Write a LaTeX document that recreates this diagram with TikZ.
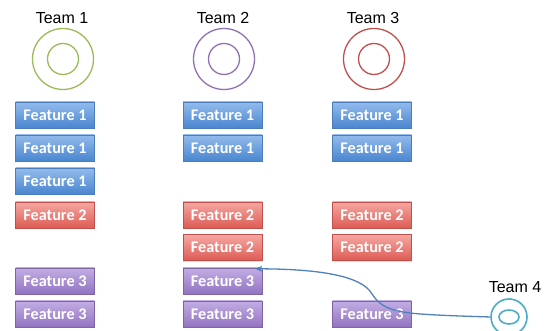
\documentclass[tikz,border=0pt]{standalone}
\usepackage{fontspec}
\setmainfont{Liberation Sans}
\newfontfamily\calib{Carlito}
\usetikzlibrary{shadows,arrows.meta,calc}
\definecolor{bluetop}{HTML}{93BBEC}
\definecolor{bluebot}{HTML}{4A86D0}
\definecolor{blueedge}{HTML}{4A7DBA}
\definecolor{redtop}{HTML}{F6A7A2}
\definecolor{redbot}{HTML}{DD5C55}
\definecolor{rededge}{HTML}{C0504D}
\definecolor{purtop}{HTML}{C2ADE3}
\definecolor{purbot}{HTML}{9273C2}
\definecolor{puredge}{HTML}{8064A2}
\definecolor{tgreen}{HTML}{9BBB59}
\definecolor{tpurple}{HTML}{8E72B5}
\definecolor{tred}{HTML}{C0504D}
\definecolor{tteal}{HTML}{4BACC6}
\definecolor{arrowblue}{HTML}{4F81BD}
\tikzset{
  featbox/.style={minimum width=79pt, minimum height=26pt, inner sep=0pt,
    font=\calib\bfseries\fontsize{16.2}{18}\selectfont, text=white,
    drop shadow={shadow xshift=0pt, shadow yshift=-1.5pt, opacity=0.25}},
  fone/.style={featbox, draw=blueedge, top color=bluetop, bottom color=bluebot},
  ftwo/.style={featbox, draw=rededge, top color=redtop, bottom color=redbot},
  fthree/.style={featbox, draw=puredge, top color=purtop, bottom color=purbot},
  outerring/.style={circle, minimum size=61pt, inner sep=0pt, line width=1.3pt},
  innerring/.style={circle, minimum size=31pt, inner sep=0pt, line width=1.3pt},
  teamlabel/.style={font=\fontsize{16}{18}\selectfont, inner sep=0pt}
}
\begin{document}
\begin{tikzpicture}[x=1pt,y=1pt]
\useasboundingbox (0,0) rectangle (549,331);
% team labels and rings
\node[teamlabel] (l1) at (62,313) {Team 1};
\node[teamlabel] (l2) at (223,313) {Team 2};
\node[teamlabel] (l3) at (373,313) {Team 3};
\node[outerring, draw=tgreen] (t1) at (63,272) {};
\node[innerring, draw=tgreen] (t1i) at (63,272) {};
\node[outerring, draw=tpurple] (t2) at (224,272) {};
\node[innerring, draw=tpurple] (t2i) at (224,272) {};
\node[outerring, draw=tred] (t3) at (374,272) {};
\node[innerring, draw=tred] (t3i) at (374,272) {};
% column 1
\node[fone] (c1r1) at (55,216) {Feature 1};
\node[fone] (c1r2) at (55,183) {Feature 1};
\node[fone] (c1r3) at (55,150) {Feature 1};
\node[ftwo] (c1r4) at (55,116) {Feature 2};
\node[fthree] (c1r6) at (55,50) {Feature 3};
\node[fthree] (c1r7) at (55,17) {Feature 3};
% column 2
\node[fone] (c2r1) at (222.5,216) {Feature 1};
\node[fone] (c2r2) at (222.5,183) {Feature 1};
\node[ftwo] (c2r4) at (222.5,116) {Feature 2};
\node[ftwo] (c2r5) at (222.5,83.5) {Feature 2};
\node[fthree] (c2r6) at (222.5,50) {Feature 3};
\node[fthree] (c2r7) at (222.5,17) {Feature 3};
% column 3
\node[fone] (c3r1) at (372,216) {Feature 1};
\node[fone] (c3r2) at (372,183) {Feature 1};
\node[ftwo] (c3r4) at (372,116) {Feature 2};
\node[ftwo] (c3r5) at (372,83.5) {Feature 2};
\node[fthree] (c3r7) at (372,17) {Feature 3};
% team 4
\node[teamlabel] (l4) at (515,44) {Team 4};
\node[circle, draw=tteal, line width=1.6pt, minimum size=36pt, inner sep=0pt] (t4) at (509,14) {};
\draw[tteal, line width=1.6pt] (t4.center) ellipse [x radius=10pt, y radius=7pt];
\coordinate (tip) at ($(c2r6.north east)+(-7,-1)$);
\draw[arrowblue, line width=1.3pt, -{Stealth[length=7pt,width=6pt]}]
  (t4.west) .. controls (460,15) and (420,16) .. (403,19)
  .. controls (385,22) and (378,28) .. (372,37)
  .. controls (362,55) and (320,62) .. (tip);
\end{tikzpicture}
\end{document}
